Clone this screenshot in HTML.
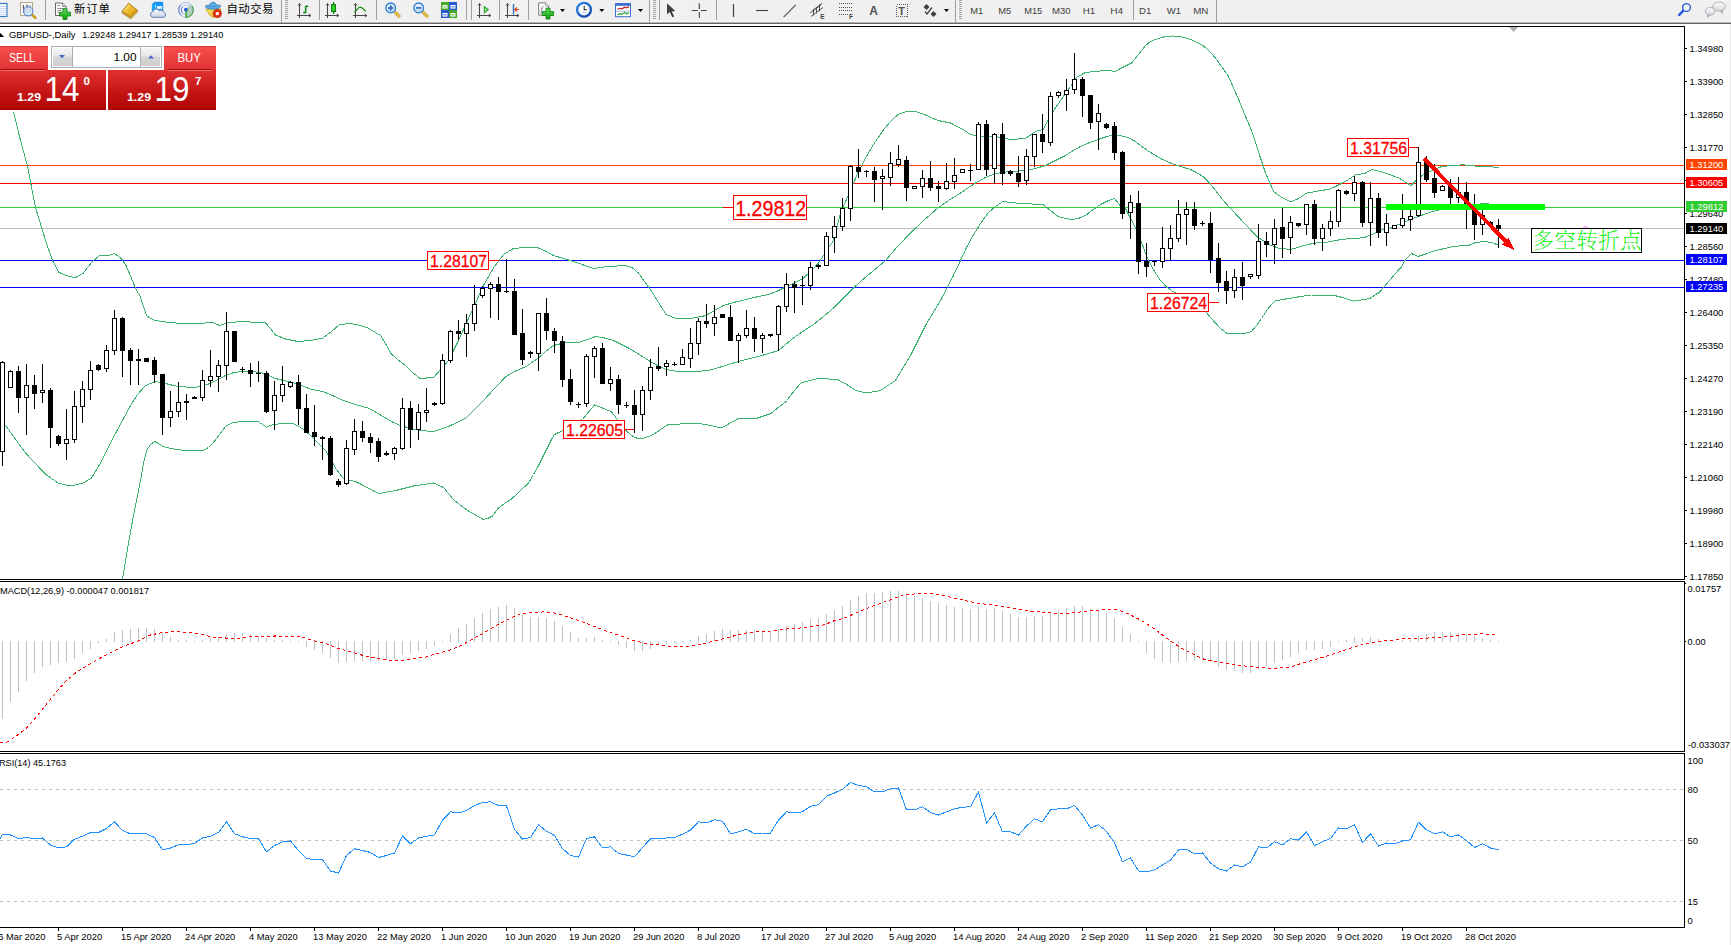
<!DOCTYPE html>
<html lang="zh"><head><meta charset="utf-8"><title>GBPUSD-,Daily</title>
<style>
html,body{margin:0;padding:0;background:#fff;overflow:hidden}
body{width:1731px;height:945px;position:relative;font-family:"Liberation Sans","Noto Sans CJK SC",sans-serif}
svg{position:absolute;left:0;top:0;display:block}
text{font-family:"Liberation Sans","Noto Sans CJK SC",sans-serif}
.ax{font-size:9.33px;fill:#000}
.axw{font-size:9.33px;fill:#fff}
.crisp{shape-rendering:crispEdges}
.lbl{font-size:16px;fill:#f00}
.cj{font-family:"Liberation Sans","Noto Sans CJK SC",sans-serif}
</style></head><body>
<svg width="1731" height="945" viewBox="0 0 1731 945">
<defs>
<linearGradient id="gb1" x1="0" y1="0" x2="0" y2="1"><stop offset="0" stop-color="#fa5050"/><stop offset="1" stop-color="#e03232"/></linearGradient>
<linearGradient id="gb2" x1="0" y1="0" x2="0" y2="1"><stop offset="0" stop-color="#e03030"/><stop offset="0.5" stop-color="#c81818"/><stop offset="1" stop-color="#b00404"/></linearGradient>
<linearGradient id="gsp" x1="0" y1="0" x2="0" y2="1"><stop offset="0" stop-color="#f6f6f6"/><stop offset="0.45" stop-color="#e6e6e6"/><stop offset="0.5" stop-color="#d6d6d6"/><stop offset="1" stop-color="#cfcfcf"/></linearGradient>
<clipPath id="cm"><rect x="0" y="27" width="1684" height="552"/></clipPath>
</defs>
<rect width="1731" height="945" fill="#fff"/>
<g class="crisp">
<rect x="0" y="165" width="1684" height="1" fill="#ff4500"/>
<rect x="0" y="183" width="1684" height="1" fill="#ff0000"/>
<rect x="0" y="207" width="1684" height="1" fill="#32cd32"/>
<rect x="0" y="228" width="1684" height="1" fill="#c0c0c0"/>
<rect x="0" y="260" width="1684" height="1" fill="#0000ff"/>
<rect x="0" y="287" width="1684" height="1" fill="#0000ff"/>
<g clip-path="url(#cm)">
<polyline points="13.5,112.1 20.5,140.5 27.3,165.5 35.5,207.5 45.5,240.5 52.5,260.5 58.7,272.3 66.5,275.5 75.0,277.9 83.1,273.3 92.5,261.2 99.5,255.8 107.5,255.8 114.5,253.5 121.5,258.8 126.2,265.8 136.5,290.5 140.2,296.1 146.5,315.5 150.5,318.5 155.5,320.5 165.5,322.0 175.5,323.0 198.0,323.5 213.0,322.5 219.5,325.5 226.5,323.0 241.5,321.5 265.5,323.0 270.5,328.5 275.5,335.0 285.5,339.0 298.0,341.5 310.5,340.5 323.0,338.0 331.5,331.5 339.5,324.5 350.5,323.5 360.5,325.5 368.0,328.0 380.5,335.5 385.5,343.5 390.5,353.0 397.5,359.5 405.5,365.5 412.5,372.5 419.5,378.0 426.5,378.0 433.5,377.5 448.5,360.5 458.5,340.5 471.0,313.0 483.5,285.5 493.5,268.0 503.5,254.5 513.5,248.5 525.5,247.5 538.5,248.0 545.5,251.0 553.5,255.5 563.5,258.5 573.5,261.5 583.5,265.0 593.5,268.5 600.5,267.5 608.5,266.5 626.0,265.5 632.5,268.0 638.5,273.0 644.5,281.5 651.0,290.5 658.5,302.5 666.0,314.5 676.0,318.5 693.5,318.0 706.0,315.5 714.5,310.5 723.5,305.5 733.5,302.5 746.0,299.5 756.5,297.0 768.5,294.5 776.5,291.5 783.5,288.0 793.5,283.5 803.5,278.0 811.5,270.5 818.5,263.0 823.5,255.5 828.5,248.0 833.5,240.5 840.5,213.0 850.5,190.5 857.5,173.5 865.5,158.0 873.5,144.5 883.0,130.5 890.5,121.5 898.0,114.5 906.5,111.5 915.5,111.5 925.5,115.0 938.0,120.5 950.5,123.0 963.0,129.5 970.5,134.5 980.5,136.5 995.5,136.5 1010.5,139.5 1025.5,138.5 1035.5,131.5 1043.0,129.5 1047.5,121.5 1053.0,111.5 1058.5,103.5 1064.5,94.9 1070.5,86.5 1076.5,77.5 1084.1,73.1 1094.5,71.1 1111.1,70.8 1114.9,71.5 1122.5,67.5 1131.5,63.0 1138.5,54.5 1145.5,45.5 1150.5,41.5 1155.5,39.5 1163.5,37.0 1172.5,36.0 1180.5,36.5 1187.5,38.5 1193.0,40.5 1203.0,45.5 1209.5,51.5 1215.5,58.0 1221.5,66.5 1228.0,75.5 1232.5,85.5 1238.0,98.0 1243.5,111.5 1250.5,128.0 1255.5,142.5 1260.5,158.0 1265.5,172.9 1269.5,182.5 1274.3,192.3 1282.5,197.8 1291.3,202.0 1298.5,198.5 1306.5,193.1 1318.5,191.0 1330.1,189.1 1337.5,185.5 1346.3,181.0 1356.0,174.5 1364.1,173.7 1372.2,169.5 1382.0,172.1 1389.5,174.5 1398.2,177.7 1404.5,181.5 1411.1,185.5 1416.8,179.4 1422.5,175.3 1433.8,169.5 1441.9,166.5 1452.5,165.5 1462.9,164.8 1470.5,165.5 1479.1,166.5 1490.5,166.5 1498.5,168.0" fill="none" stroke="#3cb371" stroke-width="1" />
<polyline points="0.5,423.5 5.5,425.5 25.5,453.0 45.5,474.2 58.0,483.0 65.5,485.0 73.0,485.5 83.0,483.0 91.5,478.0 100.5,463.0 113.0,438.0 130.5,405.5 137.5,394.5 145.5,385.5 155.5,381.5 165.5,383.5 175.5,386.0 185.5,387.0 195.5,387.5 208.0,384.2 216.5,380.5 225.5,375.5 232.5,373.0 240.5,371.5 250.5,371.5 260.5,372.5 267.5,375.0 275.5,378.5 283.5,380.5 293.0,382.5 301.5,385.5 310.5,389.2 323.0,391.5 332.5,395.5 343.0,400.5 355.5,404.5 368.0,408.0 376.5,412.5 385.5,418.0 392.5,422.0 400.5,425.5 410.5,428.5 420.5,430.5 433.5,431.5 448.5,426.5 466.0,418.0 474.5,409.5 483.5,400.5 494.5,388.5 506.0,376.5 515.5,371.0 526.0,366.5 538.5,358.0 545.5,351.5 553.5,345.5 563.5,343.0 578.5,342.5 587.5,339.5 596.0,336.5 604.5,338.0 613.5,340.5 620.5,344.0 628.5,348.0 638.5,354.0 648.5,360.5 656.5,365.0 666.0,369.5 674.5,371.0 683.5,371.5 695.5,371.5 708.5,370.5 720.5,367.0 733.5,363.0 745.5,359.5 758.5,356.5 768.5,353.5 778.5,350.5 785.5,344.5 793.5,338.0 803.5,331.0 813.5,324.5 823.5,316.5 833.5,308.0 843.5,298.0 853.5,288.0 860.5,281.5 866.5,276.5 885.5,260.5 897.5,246.5 910.5,233.0 923.5,220.5 938.0,208.0 948.5,200.5 960.5,193.0 968.5,187.5 978.0,181.5 985.5,177.5 993.0,174.5 1001.5,172.5 1010.5,171.5 1025.5,170.5 1035.5,168.5 1045.5,165.5 1055.5,160.5 1065.5,155.5 1072.5,151.0 1080.5,146.5 1088.5,143.0 1098.0,139.5 1105.5,137.0 1113.0,135.0 1120.5,135.5 1128.0,137.5 1134.5,141.0 1140.5,145.5 1147.5,150.5 1155.5,155.5 1162.5,159.5 1170.5,163.0 1180.5,166.5 1190.5,169.5 1196.5,172.5 1203.0,176.5 1209.5,183.0 1215.5,190.5 1222.5,199.5 1230.5,208.5 1238.5,217.0 1246.5,225.5 1252.5,232.0 1258.2,237.5 1264.5,241.5 1270.2,245.0 1279.9,248.7 1291.3,249.3 1298.5,247.2 1302.5,245.8 1314.5,243.1 1325.3,242.5 1339.1,239.9 1350.5,238.5 1363.5,237.8 1370.5,235.0 1377.1,232.0 1383.5,229.5 1390.1,227.9 1395.5,225.5 1401.5,223.9 1411.1,219.0 1417.2,216.8 1422.5,215.0 1429.5,212.5 1436.5,210.5 1445.5,208.5 1455.5,206.5 1465.5,205.0 1477.5,204.1 1487.2,203.7 1492.5,205.0 1498.5,206.5" fill="none" stroke="#3cb371" stroke-width="1" />
<polyline points="122.5,579.5 125.5,560.5 131.5,526.2 136.5,500.5 140.5,480.5 143.5,463.5 146.5,450.5 150.5,444.5 154.5,441.5 158.5,443.5 163.0,446.5 170.5,448.5 180.5,450.0 190.5,450.5 203.0,450.5 208.5,447.5 213.0,443.0 219.5,434.5 225.5,426.5 230.5,423.5 235.5,422.2 245.5,421.5 258.0,421.5 262.5,424.5 266.5,427.2 270.5,425.5 275.5,424.2 283.5,423.5 293.0,423.5 297.5,425.5 303.0,429.2 309.5,434.5 315.5,440.5 320.5,445.5 325.5,450.5 330.5,458.5 335.5,468.0 339.5,473.5 343.0,478.0 348.5,480.0 355.5,481.5 361.5,484.5 368.0,488.0 373.5,491.0 379.5,493.5 387.5,492.0 395.5,490.5 405.5,488.0 415.5,485.5 424.5,484.5 433.5,483.0 443.5,487.5 453.5,499.5 459.5,504.5 466.0,509.5 474.5,514.5 483.5,519.5 488.5,518.0 492.5,516.0 498.5,508.0 504.5,503.5 511.0,499.5 519.5,491.5 528.5,483.0 533.5,474.5 538.5,465.5 543.5,455.5 548.5,445.5 551.5,439.5 554.5,434.5 558.5,432.5 563.5,430.5 570.5,426.0 582.5,419.5 588.5,412.0 594.5,405.0 602.5,408.0 611.0,411.5 614.5,415.5 617.5,420.0 621.5,425.5 626.0,430.5 630.5,434.5 634.5,437.5 638.5,438.5 642.5,438.5 648.5,436.5 653.5,434.5 660.5,429.5 667.5,425.0 680.5,424.0 698.5,423.5 710.5,425.5 721.0,428.0 729.5,423.5 738.5,418.5 747.5,418.5 756.0,418.5 763.5,416.0 771.0,413.5 779.5,406.5 787.5,400.5 788.5,398.0 794.5,390.5 801.0,383.0 809.5,380.5 818.5,378.5 828.5,379.0 838.5,380.0 847.5,385.0 856.0,390.5 866.5,393.0 880.5,390.5 895.5,380.5 910.5,355.5 925.5,325.5 940.5,300.5 953.0,276.5 960.5,260.5 966.5,247.5 973.0,235.5 980.5,223.5 988.0,213.0 995.5,206.5 1003.0,201.5 1011.5,202.5 1020.5,203.5 1031.5,204.0 1043.0,204.5 1050.5,210.5 1058.0,216.5 1065.5,218.5 1073.0,219.5 1079.5,218.0 1085.5,215.5 1092.5,210.0 1100.5,204.5 1107.5,201.0 1114.5,198.5 1118.5,203.5 1123.0,210.5 1125.5,208.5 1130.5,218.5 1136.5,229.5 1141.5,242.5 1146.5,255.5 1150.5,264.5 1155.5,273.1 1160.5,280.5 1166.5,286.9 1171.5,290.5 1176.5,293.5 1186.5,300.5 1196.5,306.5 1206.5,312.5 1210.5,317.5 1216.0,323.5 1220.5,328.5 1226.5,333.0 1235.5,333.0 1246.0,333.0 1251.5,331.5 1256.5,325.5 1261.5,318.5 1267.5,309.5 1274.5,301.1 1282.5,299.5 1290.5,298.2 1300.5,296.5 1311.5,295.0 1320.5,295.0 1331.0,295.0 1336.5,296.0 1342.5,297.5 1348.5,299.5 1353.5,301.1 1361.5,300.0 1369.9,298.5 1376.5,294.0 1378.5,293.2 1384.5,286.5 1390.1,279.8 1395.5,273.5 1401.5,266.8 1405.5,259.5 1411.5,253.5 1418.1,256.5 1425.5,254.0 1434.0,251.1 1444.5,248.5 1455.5,246.1 1467.5,245.8 1475.9,242.5 1484.3,241.5 1491.8,242.5 1498.5,245.3" fill="none" stroke="#3cb371" stroke-width="1" />
</g>
<path d="M2 361h1v105h-1zM10 370h1v18h-1zM18 366h1v47h-1zM26 364h1v71h-1zM34 375h1v34h-1zM42 364h1v39h-1zM50 388h1v60h-1zM58 435h1v11h-1zM66 409h1v51h-1zM74 391h1v52h-1zM82 381h1v42h-1zM90 361h1v39h-1zM98 364h1v7h-1zM106 345h1v27h-1zM114 310h1v45h-1zM122 317h1v60h-1zM130 348h1v37h-1zM138 349h1v36h-1zM146 358h1v4h-1zM154 357h1v26h-1zM162 374h1v61h-1zM170 391h1v36h-1zM178 382h1v35h-1zM186 394h1v26h-1zM194 396h1v3h-1zM202 370h1v31h-1zM210 350h1v37h-1zM218 360h1v32h-1zM226 312h1v68h-1zM234 331h1v31h-1zM242 367h1v6h-1zM250 363h1v24h-1zM258 361h1v21h-1zM266 371h1v42h-1zM274 381h1v49h-1zM282 366h1v36h-1zM290 381h1v7h-1zM298 375h1v50h-1zM306 394h1v39h-1zM314 405h1v41h-1zM322 436h1v24h-1zM330 436h1v40h-1zM338 479h1v8h-1zM346 440h1v45h-1zM354 419h1v36h-1zM362 421h1v21h-1zM370 433h1v20h-1zM378 438h1v24h-1zM386 451h1v5h-1zM394 447h1v13h-1zM402 398h1v52h-1zM410 401h1v47h-1zM418 404h1v36h-1zM426 388h1v34h-1zM434 402h1v4h-1zM442 354h1v51h-1zM450 330h1v33h-1zM458 320h1v20h-1zM466 314h1v43h-1zM474 285h1v46h-1zM482 286h1v12h-1zM490 282h1v36h-1zM498 277h1v43h-1zM506 259h1v34h-1zM514 279h1v56h-1zM522 309h1v56h-1zM530 351h1v7h-1zM538 313h1v58h-1zM546 298h1v42h-1zM554 328h1v25h-1zM562 336h1v51h-1zM570 369h1v36h-1zM578 402h1v6h-1zM586 354h1v53h-1zM594 346h1v32h-1zM602 343h1v41h-1zM610 367h1v24h-1zM618 375h1v39h-1zM626 402h1v6h-1zM634 390h1v43h-1zM642 386h1v45h-1zM650 359h1v41h-1zM658 347h1v24h-1zM666 360h1v16h-1zM674 362h1v4h-1zM682 349h1v16h-1zM690 328h1v40h-1zM698 318h1v37h-1zM706 304h1v24h-1zM714 305h1v31h-1zM722 314h1v4h-1zM730 305h1v36h-1zM738 333h1v30h-1zM746 310h1v28h-1zM754 317h1v35h-1zM762 333h1v20h-1zM770 334h1v3h-1zM778 305h1v46h-1zM786 273h1v39h-1zM794 281h1v32h-1zM802 276h1v29h-1zM810 262h1v28h-1zM818 264h1v5h-1zM826 232h1v34h-1zM834 216h1v37h-1zM842 198h1v33h-1zM850 165h1v56h-1zM858 149h1v29h-1zM866 170h1v7h-1zM874 167h1v35h-1zM882 169h1v41h-1zM890 152h1v34h-1zM898 145h1v22h-1zM906 156h1v45h-1zM914 186h1v3h-1zM922 170h1v28h-1zM930 161h1v30h-1zM938 181h1v21h-1zM946 163h1v27h-1zM954 158h1v31h-1zM962 169h1v4h-1zM970 164h1v17h-1zM978 122h1v48h-1zM986 120h1v56h-1zM994 133h1v51h-1zM1002 123h1v62h-1zM1010 170h1v6h-1zM1018 156h1v31h-1zM1026 149h1v36h-1zM1034 134h1v33h-1zM1042 114h1v39h-1zM1050 92h1v54h-1zM1058 91h1v7h-1zM1066 79h1v32h-1zM1074 53h1v41h-1zM1082 77h1v40h-1zM1090 95h1v34h-1zM1098 104h1v46h-1zM1106 123h1v6h-1zM1114 122h1v38h-1zM1122 151h1v68h-1zM1130 195h1v44h-1zM1138 191h1v83h-1zM1146 243h1v34h-1zM1154 260h1v6h-1zM1162 227h1v41h-1zM1170 225h1v36h-1zM1178 200h1v42h-1zM1186 202h1v43h-1zM1194 202h1v28h-1zM1202 221h1v5h-1zM1210 212h1v61h-1zM1218 243h1v49h-1zM1226 271h1v33h-1zM1234 269h1v29h-1zM1242 262h1v38h-1zM1250 274h1v5h-1zM1258 224h1v55h-1zM1266 232h1v25h-1zM1274 219h1v45h-1zM1282 208h1v50h-1zM1290 216h1v38h-1zM1298 223h1v4h-1zM1306 204h1v31h-1zM1314 200h1v45h-1zM1322 224h1v27h-1zM1330 211h1v25h-1zM1338 189h1v38h-1zM1346 190h1v5h-1zM1354 176h1v25h-1zM1362 181h1v46h-1zM1370 182h1v64h-1zM1378 193h1v45h-1zM1386 214h1v32h-1zM1394 225h1v4h-1zM1402 194h1v34h-1zM1410 210h1v21h-1zM1418 147h1v70h-1zM1426 156h1v26h-1zM1434 164h1v34h-1zM1442 185h1v6h-1zM1450 179h1v26h-1zM1458 177h1v26h-1zM1466 182h1v47h-1zM1474 194h1v46h-1zM1482 206h1v29h-1zM1490 221h1v6h-1zM1498 219h1v29h-1z" fill="#000"/>
<path d="M0 362h5v90h-5zM8 371h5v17h-5zM16 371h5v27h-5zM24 385h5v13h-5zM32 385h5v9h-5zM40 390h5v3h-5zM48 390h5v38h-5zM56 436h5v8h-5zM64 439h5v5h-5zM72 406h5v34h-5zM80 389h5v18h-5zM88 370h5v20h-5zM96 365h5v5h-5zM104 350h5v19h-5zM112 318h5v33h-5zM120 318h5v33h-5zM128 350h5v11h-5zM136 359h5v2h-5zM144 358h5v4h-5zM152 360h5v15h-5zM160 374h5v44h-5zM168 411h5v7h-5zM176 402h5v10h-5zM184 401h5v2h-5zM192 397h5v2h-5zM200 380h5v18h-5zM208 376h5v5h-5zM216 365h5v12h-5zM224 331h5v35h-5zM232 331h5v31h-5zM240 369h5v1h-5zM248 370h5v4h-5zM256 373h5v1h-5zM264 373h5v39h-5zM272 395h5v16h-5zM280 384h5v12h-5zM288 382h5v5h-5zM296 382h5v27h-5zM304 408h5v25h-5zM312 432h5v5h-5zM320 437h5v2h-5zM328 438h5v37h-5zM336 481h5v4h-5zM344 448h5v36h-5zM352 431h5v19h-5zM360 431h5v7h-5zM368 437h5v6h-5zM376 441h5v16h-5zM384 453h5v2h-5zM392 448h5v6h-5zM400 408h5v41h-5zM408 408h5v22h-5zM416 412h5v18h-5zM424 410h5v3h-5zM432 403h5v2h-5zM440 360h5v44h-5zM448 331h5v30h-5zM456 331h5v3h-5zM464 323h5v11h-5zM472 304h5v20h-5zM480 288h5v8h-5zM488 284h5v5h-5zM496 284h5v8h-5zM504 291h5v1h-5zM512 291h5v44h-5zM520 333h5v27h-5zM528 352h5v2h-5zM536 313h5v41h-5zM544 313h5v18h-5zM552 331h5v10h-5zM560 341h5v39h-5zM568 379h5v23h-5zM576 404h5v1h-5zM584 356h5v48h-5zM592 348h5v9h-5zM600 348h5v36h-5zM608 379h5v5h-5zM616 379h5v26h-5zM624 405h5v1h-5zM632 405h5v10h-5zM640 390h5v25h-5zM648 367h5v24h-5zM656 366h5v3h-5zM664 363h5v4h-5zM672 364h5v1h-5zM680 357h5v8h-5zM688 343h5v16h-5zM696 321h5v23h-5zM704 321h5v3h-5zM712 317h5v7h-5zM720 314h5v4h-5zM728 317h5v24h-5zM736 335h5v6h-5zM744 328h5v8h-5zM752 328h5v11h-5zM760 335h5v4h-5zM768 334h5v2h-5zM776 306h5v29h-5zM784 284h5v23h-5zM792 284h5v4h-5zM800 285h5v1h-5zM808 267h5v19h-5zM816 265h5v2h-5zM824 236h5v30h-5zM832 226h5v12h-5zM840 208h5v19h-5zM848 166h5v43h-5zM856 167h5v5h-5zM864 171h5v1h-5zM872 171h5v9h-5zM880 176h5v3h-5zM888 163h5v15h-5zM896 159h5v6h-5zM904 160h5v28h-5zM912 186h5v3h-5zM920 178h5v9h-5zM928 178h5v10h-5zM936 186h5v3h-5zM944 181h5v8h-5zM952 175h5v7h-5zM960 169h5v4h-5zM968 170h5v1h-5zM976 124h5v46h-5zM984 124h5v46h-5zM992 134h5v35h-5zM1000 134h5v40h-5zM1008 171h5v3h-5zM1016 173h5v9h-5zM1024 156h5v25h-5zM1032 134h5v23h-5zM1040 134h5v8h-5zM1048 96h5v47h-5zM1056 92h5v4h-5zM1064 90h5v5h-5zM1072 79h5v11h-5zM1080 79h5v17h-5zM1088 95h5v28h-5zM1096 113h5v9h-5zM1104 124h5v4h-5zM1112 126h5v27h-5zM1120 152h5v62h-5zM1128 202h5v11h-5zM1136 203h5v59h-5zM1144 261h5v6h-5zM1152 261h5v1h-5zM1160 248h5v14h-5zM1168 238h5v11h-5zM1176 214h5v25h-5zM1184 209h5v6h-5zM1192 209h5v17h-5zM1200 223h5v1h-5zM1208 223h5v37h-5zM1216 258h5v25h-5zM1224 281h5v10h-5zM1232 277h5v14h-5zM1240 277h5v9h-5zM1248 274h5v3h-5zM1256 241h5v35h-5zM1264 241h5v4h-5zM1272 228h5v17h-5zM1280 227h5v12h-5zM1288 222h5v16h-5zM1296 223h5v3h-5zM1304 204h5v21h-5zM1312 204h5v35h-5zM1320 228h5v11h-5zM1328 221h5v8h-5zM1336 190h5v32h-5zM1344 191h5v3h-5zM1352 182h5v12h-5zM1360 182h5v41h-5zM1368 198h5v25h-5zM1376 198h5v35h-5zM1384 223h5v10h-5zM1392 225h5v4h-5zM1400 218h5v8h-5zM1408 216h5v4h-5zM1416 162h5v54h-5zM1424 162h5v18h-5zM1432 178h5v15h-5zM1440 186h5v5h-5zM1448 186h5v12h-5zM1456 192h5v6h-5zM1464 192h5v16h-5zM1472 207h5v18h-5zM1480 215h5v10h-5zM1488 222h5v4h-5zM1496 225h5v4h-5z" fill="#000"/>
<path d="M1 363h3v88h-3zM9 372h3v15h-3zM25 386h3v11h-3zM41 391h3v1h-3zM65 440h3v3h-3zM73 407h3v32h-3zM81 390h3v16h-3zM89 371h3v18h-3zM105 351h3v17h-3zM113 319h3v31h-3zM169 412h3v5h-3zM177 403h3v8h-3zM201 381h3v16h-3zM209 377h3v3h-3zM217 366h3v10h-3zM225 332h3v33h-3zM273 396h3v14h-3zM281 385h3v10h-3zM289 383h3v3h-3zM345 449h3v34h-3zM353 432h3v17h-3zM393 449h3v4h-3zM401 409h3v39h-3zM417 413h3v16h-3zM425 411h3v1h-3zM441 361h3v42h-3zM449 332h3v28h-3zM465 324h3v9h-3zM473 305h3v18h-3zM481 289h3v6h-3zM489 285h3v3h-3zM537 314h3v39h-3zM585 357h3v46h-3zM593 349h3v7h-3zM609 380h3v3h-3zM641 391h3v23h-3zM649 368h3v22h-3zM665 364h3v2h-3zM681 358h3v6h-3zM689 344h3v14h-3zM697 322h3v21h-3zM713 318h3v5h-3zM737 336h3v4h-3zM745 329h3v6h-3zM761 336h3v2h-3zM777 307h3v27h-3zM785 285h3v21h-3zM809 268h3v17h-3zM825 237h3v28h-3zM833 227h3v10h-3zM841 209h3v17h-3zM849 167h3v41h-3zM881 177h3v1h-3zM889 164h3v13h-3zM897 160h3v4h-3zM913 187h3v1h-3zM921 179h3v7h-3zM945 182h3v6h-3zM953 176h3v5h-3zM961 170h3v2h-3zM977 125h3v44h-3zM993 135h3v33h-3zM1025 157h3v23h-3zM1033 135h3v21h-3zM1049 97h3v45h-3zM1057 93h3v2h-3zM1065 91h3v3h-3zM1073 80h3v9h-3zM1097 114h3v7h-3zM1129 203h3v9h-3zM1161 249h3v12h-3zM1169 239h3v9h-3zM1177 215h3v23h-3zM1185 210h3v4h-3zM1233 278h3v12h-3zM1249 275h3v1h-3zM1257 242h3v33h-3zM1273 229h3v15h-3zM1289 223h3v14h-3zM1305 205h3v19h-3zM1321 229h3v9h-3zM1329 222h3v6h-3zM1337 191h3v30h-3zM1353 183h3v10h-3zM1369 199h3v23h-3zM1385 224h3v8h-3zM1393 226h3v2h-3zM1401 219h3v6h-3zM1409 217h3v2h-3zM1417 163h3v52h-3zM1441 187h3v3h-3zM1457 193h3v4h-3zM1481 216h3v8h-3z" fill="#fff"/>
<rect x="1386" y="204" width="159" height="6" fill="#00ff00"/>
</g>
<g class="crisp"><line x1="1424.2" y1="158.6" x2="1508" y2="243.6" stroke="#ff0000" stroke-width="3.7"/>
<polygon points="1514.2,249.8 1501.8,244.5 1508.6,237.6" fill="#ff0000"/></g>
<g class="crisp">
<rect x="489" y="260" width="10" height="1" fill="#f00"/>
<rect x="723" y="207" width="10" height="1" fill="#f00"/>
<rect x="625" y="429" width="9" height="1" fill="#f00"/>
<rect x="1209" y="302" width="10" height="1" fill="#f00"/>
<rect x="1409" y="147" width="9" height="1" fill="#f00"/>
</g>
<rect x="427.5" y="251.5" width="61" height="18" fill="#fff" stroke="#f00" stroke-width="1" class="crisp"/>
<text x="430" y="267" font-size="16" fill="#f00" stroke="#f00" stroke-width="0.3" textLength="57" lengthAdjust="spacingAndGlyphs">1.28107</text>
<rect x="733.5" y="195.5" width="73" height="24" fill="#fff" stroke="#f00" stroke-width="1" class="crisp"/>
<text x="735.2" y="215.8" font-size="22.2" fill="#f00" stroke="#f00" stroke-width="0.3" textLength="71" lengthAdjust="spacingAndGlyphs">1.29812</text>
<rect x="563.5" y="420.5" width="61" height="18" fill="#fff" stroke="#f00" stroke-width="1" class="crisp"/>
<text x="566" y="436" font-size="16" fill="#f00" stroke="#f00" stroke-width="0.3" textLength="57" lengthAdjust="spacingAndGlyphs">1.22605</text>
<rect x="1147.5" y="293.5" width="61" height="18" fill="#fff" stroke="#f00" stroke-width="1" class="crisp"/>
<text x="1150" y="309" font-size="16" fill="#f00" stroke="#f00" stroke-width="0.3" textLength="57" lengthAdjust="spacingAndGlyphs">1.26724</text>
<rect x="1347.5" y="138.5" width="61" height="18" fill="#fff" stroke="#f00" stroke-width="1" class="crisp"/>
<text x="1350" y="154" font-size="16" fill="#f00" stroke="#f00" stroke-width="0.3" textLength="57" lengthAdjust="spacingAndGlyphs">1.31756</text>
<rect x="1531.5" y="228.5" width="110" height="24" fill="#fff" stroke="#000" stroke-width="1" class="crisp"/>
<text x="1532.6" y="247.5" font-size="21.33px" fill="#00f000" style="font-family:'Liberation Serif','Noto Serif CJK SC',serif;font-weight:200" textLength="109" lengthAdjust="spacing">多空转折点</text>
<path d="M1583.5 228 l2 -2 l2 2" fill="none" stroke="#e060e0" stroke-width="1"/>
<g class="crisp" fill="#000">
<rect x="0" y="26" width="1685" height="1"/>
<rect x="1684" y="26" width="1" height="554"/>
<rect x="0" y="579" width="1685" height="1"/>
<rect x="0" y="581" width="1685" height="1"/>
<rect x="1684" y="581" width="1" height="171"/>
<rect x="0" y="751" width="1685" height="1"/>
<rect x="0" y="753" width="1685" height="1"/>
<rect x="1684" y="753" width="1" height="175"/>
<rect x="0" y="927" width="1685" height="1"/>
<rect x="1685" y="48" width="2" height="1"/>
<rect x="1685" y="81" width="2" height="1"/>
<rect x="1685" y="114" width="2" height="1"/>
<rect x="1685" y="147" width="2" height="1"/>
<rect x="1685" y="180" width="2" height="1"/>
<rect x="1685" y="213" width="2" height="1"/>
<rect x="1685" y="246" width="2" height="1"/>
<rect x="1685" y="279" width="2" height="1"/>
<rect x="1685" y="312" width="2" height="1"/>
<rect x="1685" y="345" width="2" height="1"/>
<rect x="1685" y="378" width="2" height="1"/>
<rect x="1685" y="411" width="2" height="1"/>
<rect x="1685" y="444" width="2" height="1"/>
<rect x="1685" y="477" width="2" height="1"/>
<rect x="1685" y="510" width="2" height="1"/>
<rect x="1685" y="543" width="2" height="1"/>
<rect x="1685" y="576" width="2" height="1"/>
<rect x="1685" y="583" width="1" height="1"/>
<rect x="1685" y="641" width="1" height="1"/>
<rect x="58" y="928" width="1" height="3"/>
<rect x="122" y="928" width="1" height="3"/>
<rect x="186" y="928" width="1" height="3"/>
<rect x="250" y="928" width="1" height="3"/>
<rect x="314" y="928" width="1" height="3"/>
<rect x="378" y="928" width="1" height="3"/>
<rect x="442" y="928" width="1" height="3"/>
<rect x="506" y="928" width="1" height="3"/>
<rect x="570" y="928" width="1" height="3"/>
<rect x="634" y="928" width="1" height="3"/>
<rect x="698" y="928" width="1" height="3"/>
<rect x="762" y="928" width="1" height="3"/>
<rect x="826" y="928" width="1" height="3"/>
<rect x="890" y="928" width="1" height="3"/>
<rect x="954" y="928" width="1" height="3"/>
<rect x="1018" y="928" width="1" height="3"/>
<rect x="1082" y="928" width="1" height="3"/>
<rect x="1146" y="928" width="1" height="3"/>
<rect x="1210" y="928" width="1" height="3"/>
<rect x="1274" y="928" width="1" height="3"/>
<rect x="1338" y="928" width="1" height="3"/>
<rect x="1402" y="928" width="1" height="3"/>
<rect x="1466" y="928" width="1" height="3"/>
</g>
<rect x="1730" y="24" width="1" height="921" fill="#e8e8e8" class="crisp"/>
<text class="ax" x="1689.6" y="52">1.34980</text>
<text class="ax" x="1689.6" y="85">1.33900</text>
<text class="ax" x="1689.6" y="118">1.32850</text>
<text class="ax" x="1689.6" y="151">1.31770</text>
<text class="ax" x="1689.6" y="217">1.29640</text>
<text class="ax" x="1689.6" y="250">1.28560</text>
<text class="ax" x="1689.6" y="283">1.27480</text>
<text class="ax" x="1689.6" y="316">1.26400</text>
<text class="ax" x="1689.6" y="349">1.25350</text>
<text class="ax" x="1689.6" y="382">1.24270</text>
<text class="ax" x="1689.6" y="415">1.23190</text>
<text class="ax" x="1689.6" y="448">1.22140</text>
<text class="ax" x="1689.6" y="481">1.21060</text>
<text class="ax" x="1689.6" y="514">1.19980</text>
<text class="ax" x="1689.6" y="547">1.18900</text>
<text class="ax" x="1689.6" y="580">1.17850</text>
<rect x="1686" y="159" width="41" height="11" fill="#ff4500" class="crisp"/>
<text class="axw" x="1689.6" y="168">1.31200</text>
<rect x="1686" y="177" width="41" height="11" fill="#ff0000" class="crisp"/>
<text class="axw" x="1689.6" y="186">1.30605</text>
<rect x="1686" y="201" width="41" height="11" fill="#32cd32" class="crisp"/>
<text class="axw" x="1689.6" y="210">1.29812</text>
<rect x="1686" y="223" width="41" height="11" fill="#000" class="crisp"/>
<text class="axw" x="1689.6" y="232">1.29140</text>
<rect x="1686" y="254" width="41" height="11" fill="#0000ff" class="crisp"/>
<text class="axw" x="1689.6" y="263">1.28107</text>
<rect x="1686" y="281" width="41" height="11" fill="#0000ff" class="crisp"/>
<text class="axw" x="1689.6" y="290">1.27235</text>
<text class="ax" x="1687.6" y="592">0.01757</text>
<text class="ax" x="1687.6" y="645">0.00</text>
<text class="ax" x="1688" y="748">-0.033037</text>
<text class="ax" x="1687.6" y="764">100</text>
<text class="ax" x="1687.6" y="793">80</text>
<text class="ax" x="1687.6" y="844">50</text>
<text class="ax" x="1687.6" y="905">15</text>
<text class="ax" x="1687.6" y="924">0</text>
<path d="M0 32.8 L4.2 37 L0 37z" fill="#000"/>
<text x="9" y="38" font-size="9.8px" fill="#000" textLength="66.5" lengthAdjust="spacingAndGlyphs">GBPUSD-,Daily</text>
<text x="82.2" y="38" font-size="9.8px" fill="#000" textLength="33.3" lengthAdjust="spacingAndGlyphs">1.29248</text>
<text x="118.2" y="38" font-size="9.8px" fill="#000" textLength="33.3" lengthAdjust="spacingAndGlyphs">1.29417</text>
<text x="154" y="38" font-size="9.8px" fill="#000" textLength="33.3" lengthAdjust="spacingAndGlyphs">1.28539</text>
<text x="190" y="38" font-size="9.8px" fill="#000" textLength="33.3" lengthAdjust="spacingAndGlyphs">1.29140</text>
<text x="0" y="594" font-size="9.6px" fill="#000" textLength="149" lengthAdjust="spacingAndGlyphs">MACD(12,26,9) -0.000047 0.001817</text>
<text x="-1" y="766" font-size="9.6px" fill="#000" textLength="67" lengthAdjust="spacingAndGlyphs">RSI(14) 45.1763</text>
<path d="M1509 27 h9 l-4.5 5z" fill="#b0b0b0"/>
<g class="crisp">
<path d="M2 641h1v78h-1zM10 641h1v61h-1zM18 641h1v51h-1zM26 641h1v40h-1zM34 641h1v32h-1zM42 641h1v26h-1zM50 641h1v24h-1zM58 641h1v22h-1zM66 641h1v21h-1zM74 641h1v18h-1zM82 641h1v12h-1zM90 641h1v8h-1zM98 641h1v2h-1zM106 639h1v3h-1zM114 632h1v10h-1zM122 630h1v12h-1zM130 629h1v13h-1zM138 628h1v14h-1zM146 628h1v14h-1zM154 629h1v13h-1zM162 632h1v10h-1zM170 637h1v5h-1zM178 640h1v2h-1zM186 640h1v2h-1zM194 641h1v1h-1zM202 640h1v2h-1zM210 638h1v4h-1zM218 636h1v6h-1zM226 634h1v8h-1zM234 633h1v9h-1zM242 633h1v9h-1zM250 634h1v8h-1zM258 636h1v6h-1zM266 638h1v4h-1zM274 640h1v2h-1zM282 640h1v2h-1zM290 641h1v1h-1zM298 641h1v1h-1zM306 641h1v6h-1zM314 641h1v9h-1zM322 641h1v12h-1zM330 641h1v17h-1zM338 641h1v22h-1zM346 641h1v21h-1zM354 641h1v20h-1zM362 641h1v20h-1zM370 641h1v20h-1zM378 641h1v20h-1zM386 641h1v19h-1zM394 641h1v18h-1zM402 641h1v14h-1zM410 641h1v12h-1zM418 641h1v10h-1zM426 641h1v8h-1zM434 641h1v5h-1zM442 641h1v1h-1zM450 634h1v8h-1zM458 628h1v14h-1zM466 624h1v18h-1zM474 618h1v24h-1zM482 613h1v29h-1zM490 609h1v33h-1zM498 607h1v35h-1zM506 605h1v37h-1zM514 608h1v34h-1zM522 614h1v28h-1zM530 617h1v25h-1zM538 617h1v25h-1zM546 618h1v24h-1zM554 621h1v21h-1zM562 626h1v16h-1zM570 632h1v10h-1zM578 638h1v4h-1zM586 638h1v4h-1zM594 637h1v5h-1zM602 640h1v2h-1zM610 641h1v1h-1zM618 641h1v4h-1zM626 641h1v7h-1zM634 641h1v10h-1zM642 641h1v10h-1zM650 641h1v8h-1zM658 641h1v4h-1zM666 641h1v3h-1zM674 641h1v2h-1zM682 641h1v1h-1zM690 640h1v2h-1zM698 636h1v6h-1zM706 634h1v8h-1zM714 631h1v11h-1zM722 629h1v13h-1zM730 630h1v12h-1zM738 630h1v12h-1zM746 630h1v12h-1zM754 630h1v12h-1zM762 631h1v11h-1zM770 631h1v11h-1zM778 629h1v13h-1zM786 626h1v16h-1zM794 624h1v18h-1zM802 622h1v20h-1zM810 619h1v23h-1zM818 618h1v24h-1zM826 614h1v28h-1zM834 610h1v32h-1zM842 606h1v36h-1zM850 600h1v42h-1zM858 596h1v46h-1zM866 593h1v49h-1zM874 593h1v49h-1zM882 592h1v50h-1zM890 591h1v51h-1zM898 591h1v51h-1zM906 594h1v48h-1zM914 596h1v46h-1zM922 598h1v44h-1zM930 601h1v41h-1zM938 603h1v39h-1zM946 605h1v37h-1zM954 607h1v35h-1zM962 608h1v34h-1zM970 609h1v33h-1zM978 606h1v36h-1zM986 609h1v33h-1zM994 608h1v34h-1zM1002 611h1v31h-1zM1010 614h1v28h-1zM1018 617h1v25h-1zM1026 617h1v25h-1zM1034 616h1v26h-1zM1042 616h1v26h-1zM1050 612h1v30h-1zM1058 610h1v32h-1zM1066 608h1v34h-1zM1074 606h1v36h-1zM1082 606h1v36h-1zM1090 609h1v33h-1zM1098 610h1v32h-1zM1106 613h1v29h-1zM1114 618h1v24h-1zM1122 627h1v15h-1zM1130 634h1v8h-1zM1138 641h1v1h-1zM1146 641h1v12h-1zM1154 641h1v18h-1zM1162 641h1v21h-1zM1170 641h1v22h-1zM1178 641h1v21h-1zM1186 641h1v20h-1zM1194 641h1v20h-1zM1202 641h1v20h-1zM1210 641h1v21h-1zM1218 641h1v26h-1zM1226 641h1v29h-1zM1234 641h1v30h-1zM1242 641h1v32h-1zM1250 641h1v32h-1zM1258 641h1v28h-1zM1266 641h1v25h-1zM1274 641h1v22h-1zM1282 641h1v19h-1zM1290 641h1v16h-1zM1298 641h1v12h-1zM1306 641h1v9h-1zM1314 641h1v9h-1zM1322 641h1v8h-1zM1330 641h1v6h-1zM1338 641h1v1h-1zM1346 640h1v2h-1zM1354 637h1v5h-1zM1362 638h1v4h-1zM1370 637h1v5h-1zM1378 639h1v3h-1zM1386 640h1v2h-1zM1394 641h1v1h-1zM1402 640h1v2h-1zM1410 640h1v2h-1zM1418 636h1v6h-1zM1426 634h1v8h-1zM1434 632h1v10h-1zM1442 632h1v10h-1zM1450 632h1v10h-1zM1458 633h1v9h-1zM1466 634h1v8h-1zM1474 636h1v6h-1zM1482 638h1v4h-1zM1490 640h1v2h-1zM1498 641h1v1h-1z" fill="#c0c0c0"/>
<polyline points="0.5,743.0 6.5,742.5 15.5,736.5 25.5,729.2 35.5,718.0 45.5,705.5 55.5,693.0 65.5,681.5 75.5,673.0 88.0,665.0 100.5,658.0 113.0,651.5 125.5,645.5 138.0,641.0 150.5,635.0 163.0,632.5 175.5,631.5 188.0,632.5 200.5,634.2 213.0,637.2 225.5,638.0 240.5,638.0 253.0,636.2 275.5,636.0 300.5,636.5 313.0,640.5 325.5,643.5 338.0,648.5 350.5,651.5 363.0,655.5 375.5,658.0 388.0,660.0 400.5,660.5 413.0,658.5 425.5,657.2 436.0,653.8 448.5,650.5 461.0,645.5 473.5,638.5 486.0,631.8 498.5,624.2 511.0,618.0 521.0,613.8 533.5,612.5 546.0,611.8 558.5,613.8 571.0,618.0 583.5,622.2 596.0,627.2 608.5,631.8 621.0,636.0 633.5,640.5 646.0,643.5 658.5,645.0 671.0,646.8 683.5,646.8 696.0,645.0 708.5,642.5 721.0,639.2 733.5,636.0 746.0,633.0 758.5,631.2 771.0,631.0 783.5,629.2 796.0,628.5 808.5,626.8 823.5,625.0 833.5,621.0 846.0,617.5 858.5,611.8 869.0,607.5 881.5,603.0 894.0,598.5 904.0,595.0 916.5,593.8 931.5,593.8 946.5,596.2 961.5,599.8 976.5,603.0 991.5,605.0 1006.5,606.8 1016.5,609.2 1031.5,611.2 1046.5,612.5 1061.5,613.8 1076.5,612.5 1091.5,610.5 1104.0,609.8 1119.0,610.0 1129.0,614.2 1141.5,620.5 1154.0,628.5 1166.5,638.0 1179.0,646.8 1191.5,653.5 1204.0,659.2 1216.5,661.8 1229.0,663.5 1241.5,665.5 1254.0,667.2 1266.5,668.0 1279.0,668.0 1291.5,666.8 1301.0,663.5 1313.5,660.0 1331.0,654.8 1343.5,650.5 1358.5,645.5 1373.5,642.2 1388.5,640.5 1403.5,638.8 1418.5,638.8 1433.5,637.5 1448.5,636.8 1463.5,634.8 1478.5,634.2 1484.5,633.5 1488.5,634.8 1496.0,634.8" fill="none" stroke="#ff0000" stroke-width="1" stroke-dasharray="3 3"/>
<line x1="0" y1="789.5" x2="1684" y2="789.5" stroke="#c0c0c0" stroke-width="1" stroke-dasharray="3 4"/>
<line x1="0" y1="840.5" x2="1684" y2="840.5" stroke="#c0c0c0" stroke-width="1" stroke-dasharray="3 4"/>
<line x1="0" y1="901.5" x2="1684" y2="901.5" stroke="#c0c0c0" stroke-width="1" stroke-dasharray="3 4"/>
<polyline points="-5.5,849.5 2.5,834.2 10.5,835.0 18.5,838.8 26.5,837.5 34.5,838.8 42.5,838.0 50.5,845.0 58.5,848.0 66.5,846.8 74.5,839.2 82.5,836.2 90.5,832.5 98.5,832.5 106.5,828.5 114.5,821.8 122.5,830.5 130.5,833.8 138.5,833.8 146.5,833.8 154.5,837.5 162.5,849.8 170.5,848.0 178.5,844.8 186.5,844.8 194.5,843.5 202.5,838.0 210.5,836.2 218.5,832.5 226.5,821.8 234.5,833.8 242.5,836.8 250.5,838.5 258.5,838.8 266.5,851.8 274.5,845.5 282.5,841.8 290.5,841.0 298.5,850.5 306.5,858.5 314.5,859.8 322.5,859.8 330.5,871.0 338.5,873.0 346.5,855.5 354.5,848.8 362.5,850.5 370.5,852.5 378.5,857.5 386.5,855.5 394.5,853.0 402.5,836.0 410.5,843.8 418.5,838.0 426.5,836.2 434.5,835.0 442.5,820.0 450.5,811.8 458.5,813.0 466.5,810.5 474.5,805.5 482.5,802.5 490.5,801.8 498.5,805.5 506.5,806.0 514.5,829.2 522.5,839.2 530.5,837.5 538.5,825.0 546.5,831.2 554.5,835.5 562.5,848.5 570.5,855.5 578.5,857.2 586.5,838.5 594.5,836.8 602.5,848.0 610.5,846.8 618.5,853.5 626.5,855.0 634.5,856.8 642.5,847.5 650.5,838.8 658.5,838.8 666.5,838.0 674.5,837.5 682.5,834.2 690.5,830.0 698.5,821.8 706.5,823.0 714.5,819.8 722.5,821.2 730.5,833.8 738.5,831.8 746.5,829.2 754.5,833.8 762.5,833.0 770.5,833.0 778.5,820.0 786.5,811.8 794.5,813.0 802.5,811.8 810.5,806.2 818.5,804.8 826.5,796.2 834.5,793.0 842.5,789.2 850.5,782.5 858.5,785.5 866.5,786.8 874.5,791.8 882.5,791.8 890.5,788.8 898.5,788.0 906.5,809.8 914.5,809.8 922.5,806.8 930.5,812.5 938.5,815.0 946.5,811.8 954.5,808.8 962.5,807.2 970.5,806.8 978.5,791.8 986.5,823.0 994.5,813.0 1002.5,831.8 1010.5,831.8 1018.5,835.0 1026.5,826.0 1034.5,818.8 1042.5,821.8 1050.5,809.8 1058.5,808.8 1066.5,808.8 1074.5,805.5 1082.5,815.0 1090.5,828.0 1098.5,824.8 1106.5,831.2 1114.5,843.0 1122.5,861.8 1130.5,858.0 1138.5,871.0 1146.5,871.8 1154.5,869.8 1162.5,865.0 1170.5,860.0 1178.5,850.0 1186.5,849.2 1194.5,853.8 1202.5,853.0 1210.5,863.0 1218.5,868.8 1226.5,871.0 1234.5,865.0 1242.5,866.8 1250.5,862.2 1258.5,846.8 1266.5,848.0 1274.5,841.8 1282.5,844.8 1290.5,838.8 1298.5,840.0 1306.5,831.8 1314.5,845.5 1322.5,841.8 1330.5,838.5 1338.5,828.0 1346.5,828.8 1354.5,824.8 1362.5,842.5 1370.5,833.8 1378.5,846.0 1386.5,843.0 1394.5,843.8 1402.5,841.0 1410.5,839.8 1418.5,822.2 1426.5,829.8 1434.5,833.8 1442.5,831.8 1450.5,836.8 1458.5,835.0 1466.5,840.5 1474.5,847.5 1482.5,843.8 1490.5,848.0 1498.5,849.8" fill="none" stroke="#1e90ff" stroke-width="1" />
</g>
<text class="ax" x="-7" y="940" font-size="9.6px">26 Mar 2020</text>
<text class="ax" x="57" y="940" font-size="9.6px">5 Apr 2020</text>
<text class="ax" x="121" y="940" font-size="9.6px">15 Apr 2020</text>
<text class="ax" x="185" y="940" font-size="9.6px">24 Apr 2020</text>
<text class="ax" x="249" y="940" font-size="9.6px">4 May 2020</text>
<text class="ax" x="313" y="940" font-size="9.6px">13 May 2020</text>
<text class="ax" x="377" y="940" font-size="9.6px">22 May 2020</text>
<text class="ax" x="441" y="940" font-size="9.6px">1 Jun 2020</text>
<text class="ax" x="505" y="940" font-size="9.6px">10 Jun 2020</text>
<text class="ax" x="569" y="940" font-size="9.6px">19 Jun 2020</text>
<text class="ax" x="633" y="940" font-size="9.6px">29 Jun 2020</text>
<text class="ax" x="697" y="940" font-size="9.6px">8 Jul 2020</text>
<text class="ax" x="761" y="940" font-size="9.6px">17 Jul 2020</text>
<text class="ax" x="825" y="940" font-size="9.6px">27 Jul 2020</text>
<text class="ax" x="889" y="940" font-size="9.6px">5 Aug 2020</text>
<text class="ax" x="953" y="940" font-size="9.6px">14 Aug 2020</text>
<text class="ax" x="1017" y="940" font-size="9.6px">24 Aug 2020</text>
<text class="ax" x="1081" y="940" font-size="9.6px">2 Sep 2020</text>
<text class="ax" x="1145" y="940" font-size="9.6px">11 Sep 2020</text>
<text class="ax" x="1209" y="940" font-size="9.6px">21 Sep 2020</text>
<text class="ax" x="1273" y="940" font-size="9.6px">30 Sep 2020</text>
<text class="ax" x="1337" y="940" font-size="9.6px">9 Oct 2020</text>
<text class="ax" x="1401" y="940" font-size="9.6px">19 Oct 2020</text>
<text class="ax" x="1465" y="940" font-size="9.6px">28 Oct 2020</text>
<g>
<rect x="0" y="46" width="48" height="24" fill="url(#gb1)"/>
<rect x="164" y="46" width="52" height="24" fill="url(#gb1)"/>
<rect x="0" y="70" width="106" height="40" fill="url(#gb2)"/>
<rect x="108" y="70" width="108" height="40" fill="url(#gb2)"/>
<rect x="0" y="46" width="48" height="1" fill="#d83030" class="crisp"/>
<rect x="164" y="46" width="52" height="1" fill="#d83030" class="crisp"/>
<rect x="1" y="69" width="44" height="1" fill="#9c0a0a" class="crisp"/>
<rect x="1" y="70" width="44" height="1" fill="#f07070" class="crisp"/>
<rect x="168" y="69" width="44" height="1" fill="#9c0a0a" class="crisp"/>
<rect x="168" y="70" width="44" height="1" fill="#f07070" class="crisp"/>
<rect x="51.5" y="46.5" width="110" height="21" fill="#fff" stroke="#a9b0b8" class="crisp"/>
<rect x="53" y="48" width="19" height="18" fill="url(#gsp)"/>
<rect x="72" y="47" width="1" height="20" fill="#a9b0b8" class="crisp"/>
<rect x="141" y="48" width="19" height="18" fill="url(#gsp)"/>
<rect x="140" y="47" width="1" height="20" fill="#a9b0b8" class="crisp"/>
<path d="M59 55 h6 l-3 3.2z" fill="#4a63c8"/>
<path d="M148 58.5 h6 l-3 -3.2z" fill="#4a63c8"/>
<text x="113.5" y="60.7" font-size="11.5px" fill="#000" textLength="23" lengthAdjust="spacingAndGlyphs">1.00</text>
<text x="9" y="61.7" font-size="12px" fill="#fff" textLength="26" lengthAdjust="spacingAndGlyphs">SELL</text>
<text x="177.5" y="61.7" font-size="12px" fill="#fff" textLength="23.5" lengthAdjust="spacingAndGlyphs">BUY</text>
<text x="17" y="101" font-size="11px" font-weight="bold" fill="#fff" textLength="24" lengthAdjust="spacingAndGlyphs">1.29</text>
<text x="44.5" y="101.2" font-size="34.3px" fill="#fff" textLength="35" lengthAdjust="spacingAndGlyphs">14</text>
<text x="83.5" y="85" font-size="11.5px" font-weight="bold" fill="#fff">0</text>
<text x="127" y="101" font-size="11px" font-weight="bold" fill="#fff" textLength="24" lengthAdjust="spacingAndGlyphs">1.29</text>
<text x="154.5" y="101.2" font-size="34.3px" fill="#fff" textLength="35" lengthAdjust="spacingAndGlyphs">19</text>
<text x="195" y="85" font-size="11.5px" font-weight="bold" fill="#fff">7</text>
</g>
<g id="toolbar">
<defs>
<linearGradient id="gold" x1="0" y1="0" x2="1" y2="1"><stop offset="0" stop-color="#ffe070"/><stop offset="0.6" stop-color="#e8b020"/><stop offset="1" stop-color="#b88010"/></linearGradient>
<linearGradient id="grn" x1="0" y1="0" x2="0" y2="1"><stop offset="0" stop-color="#60e060"/><stop offset="1" stop-color="#08a008"/></linearGradient>
<linearGradient id="lens" x1="0" y1="0" x2="0" y2="1"><stop offset="0" stop-color="#eaf4fc"/><stop offset="1" stop-color="#b8d4f0"/></linearGradient>
<linearGradient id="cld" x1="0" y1="0" x2="0" y2="1"><stop offset="0" stop-color="#ffffff"/><stop offset="1" stop-color="#c4d0e6"/></linearGradient>
<linearGradient id="yel" x1="0" y1="0" x2="1" y2="1"><stop offset="0" stop-color="#fbe870"/><stop offset="1" stop-color="#dca818"/></linearGradient>
<linearGradient id="clk" x1="0" y1="0" x2="0.6" y2="1"><stop offset="0" stop-color="#2a88ec"/><stop offset="1" stop-color="#0c4cb0"/></linearGradient>
<linearGradient id="bub" x1="0" y1="0" x2="0" y2="1"><stop offset="0" stop-color="#fbfbfb"/><stop offset="1" stop-color="#d4d6de"/></linearGradient>
<pattern id="chk" width="2" height="2" patternUnits="userSpaceOnUse"><rect width="2" height="2" fill="#f7f7f7"/><rect width="1" height="1" fill="#ececec"/><rect x="1" y="1" width="1" height="1" fill="#ececec"/></pattern>
<g id="grip"><path d="M0 .5h3M0 2.5h3M0 4.5h3M0 6.5h3M0 8.5h3M0 10.5h3M0 12.5h3M0 14.5h3M0 16.5h3M0 18.5h3" stroke="#a8a8a8" stroke-width="1" shape-rendering="crispEdges"/></g>
<path id="dd" d="M0 0h5l-2.5 3z" fill="#000"/>
<g id="axes" stroke="#484848" stroke-width="1.05" fill="none"><path d="M2.5 3.5v14.5M0 15.5h13.5"/><path d="M1 5.5l1.5-2 1.5 2M11.8 14l2 1.5-2 1.5" stroke-width="1"/></g>
</defs>
<rect x="0" y="0" width="1731" height="22" fill="#f0f0f0"/>
<rect x="0" y="21" width="1731" height="1" fill="#f7f7f7" class="crisp"/>
<rect x="0" y="22" width="1731" height="1" fill="#b0b0b0" class="crisp"/>
<rect x="0" y="23" width="1731" height="1" fill="#6a6a6a" class="crisp"/>
<!-- pressed backgrounds -->
<rect x="320" y="0" width="25" height="21" fill="url(#chk)"/>
<rect x="472" y="0" width="24" height="21" fill="url(#chk)"/>
<rect x="500" y="0" width="24" height="21" fill="url(#chk)"/>
<rect x="660" y="0" width="25" height="21" fill="url(#chk)"/>
<rect x="1134" y="0" width="24" height="21" fill="url(#chk)"/>
<!-- separators -->
<g class="crisp" fill="#a0a0a0">
<rect x="45" y="0" width="1" height="20"/>
<rect x="281" y="0" width="1" height="22"/>
<rect x="319" y="0" width="1" height="20"/>
<rect x="376" y="0" width="1" height="20"/>
<rect x="466" y="0" width="1" height="20"/>
<rect x="471" y="0" width="1" height="20"/>
<rect x="499" y="0" width="1" height="20"/>
<rect x="528" y="0" width="1" height="20"/>
<rect x="649" y="0" width="1" height="22"/>
<rect x="659" y="0" width="1" height="20"/>
<rect x="716" y="0" width="1" height="20"/>
<rect x="955" y="0" width="1" height="22"/>
<rect x="1133" y="0" width="1" height="20"/>
<rect x="1216" y="0" width="1" height="22"/>
</g>
<use href="#grip" x="285" y="0"/><use href="#grip" x="653" y="0"/><use href="#grip" x="959" y="0"/>
<!-- icon1 doc with lines -->
<rect x="-3" y="3.5" width="10" height="13" fill="#fff" stroke="#3a78c8" stroke-width="1.2"/>
<path d="M0 6.5h6M0 8.5h6M0 10.5h6M0 12.5h6M0 14.5h6" stroke="#c4d6f6" stroke-width="1"/>
<!-- icon2 chart+magnifier -->
<rect x="20.5" y="2.5" width="12" height="13" fill="#fafafa" stroke="#b4a888" stroke-width="1"/>
<path d="M23.5 5v8M27 4.5v8M30 5v7M22.5 7h2M26 6h2" stroke="#606060" stroke-width="1" fill="none"/>
<circle cx="28.3" cy="11.3" r="4.6" fill="#cfe0f4" fill-opacity="0.85" stroke="#5c8ad8" stroke-width="1.1"/>
<path d="M32 14.8l4.2 3.8" stroke="#c8981c" stroke-width="2.5" stroke-linecap="butt"/>
<!-- icon3 new order -->
<path d="M55.5 3h7l3.5 3.5v9h-10.5z" fill="#fdfdfd" stroke="#666" stroke-width="1" stroke-linejoin="round"/>
<path d="M62.5 3v3.5h3.5" fill="#e0e0e0" stroke="#707070" stroke-width="0.8"/>
<path d="M57.5 5.5h2.5M57.5 8.5h6M57.5 10.5h4M57.5 12.5h2.5" stroke="#8a8a8a" stroke-width="1"/>
<path d="M63 8.7h4v3.5h3.5v3.8h-3.5v3.4h-4v-3.4h-3.5v-3.8h3.5z" fill="url(#grn)" stroke="#0a7a0a" stroke-width="0.8"/>
<text x="74" y="13.3" font-size="11.4px" fill="#000" textLength="36" lengthAdjust="spacing">新订单</text>
<!-- icon4 book -->
<path d="M122.2 12.2l0.2 1.2 8.6 5.6 6.8-7.2-0.2-1.4-6.9 7z" fill="#fff2c8" stroke="#a87818" stroke-width="0.8" stroke-linejoin="round"/>
<path d="M128.6 3.2l8.9 7.2-6.8 7-8.6-6z" fill="url(#gold)" stroke="#a87818" stroke-width="1" stroke-linejoin="round"/>
<path d="M128.2 5.2l-4.2 6" stroke="#fff0a0" stroke-width="0.8" fill="none"/>
<!-- icon5 server cloud -->
<path d="M152.3 3.9l2.6-1.8h7.6l0.5 1.9v6.8h-10.7z" fill="#1c98f8" stroke="#1878d8" stroke-width="0.5"/>
<path d="M152.4 4l3.2 0.6v6h-3.2z" fill="#10a8ff"/>
<path d="M155.6 4.4v6.4" stroke="#d8f0ff" stroke-width="0.7"/>
<rect x="156.9" y="6" width="5.4" height="3.2" fill="#c4e4ff"/>
<path d="M157.6 7.6l4-0.8" stroke="#fff" stroke-width="0.9"/>
<path d="M152.8 17.3a2.7 2.7 0 0 1-0.2-5.3a3.7 3.7 0 0 1 6.7-1.2a3.1 3.1 0 0 1 4.6 1.7a2.5 2.5 0 0 1-0.3 4.8z" fill="url(#cld)" stroke="#5474ac" stroke-width="0.9"/>
<!-- icon6 signals -->
<path d="M185.9 9.9v7.6a7.6 7.6 0 0 0 4.4-13.8z" fill="#58b058" fill-opacity="0.42"/>
<g fill="none">
<circle cx="185.9" cy="9.9" r="7.3" stroke="#a8bcec" stroke-width="1"/>
<path d="M180.7 4.8a7.3 7.3 0 0 0 0.2 10.4" stroke="#6c8cdc" stroke-width="1.1"/>
<circle cx="185.9" cy="9.9" r="4.6" stroke="#b0c4ee" stroke-width="0.9"/>
<path d="M182.6 6.7a4.6 4.6 0 0 0 0.2 6.6" stroke="#5c80d8" stroke-width="1"/>
<path d="M192.2 6.2a7.3 7.3 0 0 1 -6.3 11" stroke="#58a858" stroke-width="1.3"/>
</g>
<path d="M186.1 9.9v7.9" stroke="#22a022" stroke-width="1.4"/>
<circle cx="185.9" cy="9.7" r="1.9" fill="#2458d0"/>
<!-- icon7 expert -->
<path d="M205.6 9l15.2-0.3-2.2 3.4-5.2 5.8-3.8-2.8z" fill="url(#yel)" stroke="#c09818" stroke-width="0.7" stroke-linejoin="round"/>
<path d="M205.2 6.6c1.5 3.4 13.5 3.6 15.6-0.4c-1-1.6-3-1.6-4.2-0.6c-0.6-4.6-6.8-4.6-7.4 0.2c-1.4-1-3.2-0.8-4 0.8z" fill="#5cacE4" stroke="#2c7cb8" stroke-width="0.8" stroke-linejoin="round"/>
<path d="M209.6 5.8c1.6 1.2 5 1.2 6.8-0.2" stroke="#2c7cb8" stroke-width="0.6" fill="none"/>
<circle cx="217.3" cy="13.6" r="4.1" fill="#e02c0c" stroke="#b41c04" stroke-width="0.6"/>
<rect x="215.8" y="12.1" width="3" height="3" fill="#fff"/>
<text x="226.4" y="13.3" font-size="11.4px" fill="#000" textLength="47" lengthAdjust="spacing">自动交易</text>
<!-- chart type icons -->
<use href="#axes" x="297" y="0"/>
<path d="M305.7 6v7M305.7 6.3h2.6M303.2 12.6h2.5" stroke="#10901a" stroke-width="1.6" fill="none"/>
<use href="#axes" x="325" y="0"/>
<path d="M333.6 2v12" stroke="#0a700a" stroke-width="1.2"/>
<rect x="331.6" y="4.6" width="4" height="7" fill="#28d028" stroke="#0a700a" stroke-width="0.9"/>
<use href="#axes" x="353" y="0"/>
<path d="M354.3 12.3c2.5-1.5 3.5-5 5.8-5.2c2.3 0 3.5 2.8 5.8 4.2" stroke="#18901a" stroke-width="1.3" fill="none"/>
<!-- zoom in/out -->
<path d="M394.6 11.9l5.4 5.2" stroke="#c89818" stroke-width="2.9" stroke-linecap="butt"/><path d="M394.9 12.2l5 4.8" stroke="#f0d060" stroke-width="1.2"/>
<circle cx="390.7" cy="7.9" r="4.9" fill="url(#lens)" stroke="#2c7cd4" stroke-width="1.3"/>
<path d="M388 7.9h5.4M390.7 5.2v5.4" stroke="#2060c0" stroke-width="1.5"/>
<path d="M422.6 11.9l5.4 5.2" stroke="#c89818" stroke-width="2.9" stroke-linecap="butt"/><path d="M422.9 12.2l5 4.8" stroke="#f0d060" stroke-width="1.2"/>
<circle cx="418.7" cy="7.9" r="4.9" fill="url(#lens)" stroke="#2c7cd4" stroke-width="1.3"/>
<path d="M416 7.9h5.4" stroke="#2060c0" stroke-width="1.5"/>
<!-- tile -->
<rect x="441" y="2" width="8" height="8" fill="#48a828"/><rect x="449" y="2" width="8" height="8" fill="#2858d0"/>
<rect x="441" y="10" width="8" height="8" fill="#2858d0"/><rect x="449" y="10" width="8" height="8" fill="#48a828"/>
<g fill="#fff"><rect x="442.5" y="5" width="5" height="3.6"/><rect x="450.5" y="5" width="5" height="3.6"/><rect x="442.5" y="13" width="5" height="3.6"/><rect x="450.5" y="13" width="5" height="3.6"/></g>
<g fill="#48a828"><rect x="443.3" y="6.4" width="3.4" height="0.9"/><rect x="451.3" y="14.4" width="3.4" height="0.9"/></g>
<g fill="#2858d0"><rect x="451.3" y="6.4" width="3.4" height="0.9"/><rect x="443.3" y="14.4" width="3.4" height="0.9"/></g>
<!-- autoscroll / shift -->
<use href="#axes" x="477" y="0"/>
<path d="M484.4 6.8l3.8 2.9-3.8 2.9z" fill="#b0f0b0" stroke="#20a020" stroke-width="1.1"/>
<use href="#axes" x="505" y="0"/>
<path d="M513.5 4v10.5" stroke="#2070c0" stroke-width="1.3"/>
<path d="M519 9.5h-4M517 7.5l-2.3 2 2.3 2" stroke="#e04010" stroke-width="1.2" fill="none"/>
<!-- indicators -->
<path d="M538.7 2.8h6.6l3.4 3.2v9.2h-10z" fill="#fdfdfd" stroke="#6a6a6a" stroke-width="0.9" stroke-linejoin="round"/><path d="M545.3 2.8v3.2h3.4" fill="#e8e8e8" stroke="#8a8a8a" stroke-width="0.7"/>
<text x="540.6" y="11.6" font-size="8px" font-style="italic" fill="#505050" style="font-family:'Liberation Serif',serif">f</text>
<path d="M546 8.1h4v3.5h3.6v3.9h-3.6v3.5h-4v-3.5h-3.6v-3.9h3.6z" fill="url(#grn)" stroke="#0a7a0a" stroke-width="0.8"/>
<use href="#dd" x="560" y="9"/>
<!-- clock -->
<circle cx="584" cy="9.8" r="6.9" fill="#fdfdff" stroke="url(#clk)" stroke-width="2.3"/>
<circle cx="584" cy="9.8" r="4.6" fill="none" stroke="#b8b8c0" stroke-width="0.9" stroke-dasharray="0.7 1.7"/>
<path d="M584.2 5.9v3.7h2.5" stroke="#303030" stroke-width="1.1" fill="none"/>
<path d="M582.8 12.4h2.6" stroke="#80b0f0" stroke-width="0.9"/>
<use href="#dd" x="599.3" y="9"/>
<!-- template -->
<rect x="615.5" y="3.7" width="15" height="13" fill="#fff" stroke="#3870d0" stroke-width="1"/>
<rect x="615" y="3.2" width="16" height="2.6" fill="#3870d0"/>
<path d="M615.5 11.2h15" stroke="#88a8e0" stroke-width="0.8"/>
<path d="M617.5 9.3l2.5-1 2 0.5 2.5-1.6 2 0.6 2.5-1.2" stroke="#c02020" stroke-width="1.2" fill="none"/>
<path d="M617.5 15l2.5-1.4 2 0.8 2.5-2 2 1.4 2.5-1" stroke="#20a020" stroke-width="1.2" fill="none"/>
<use href="#dd" x="638" y="9"/>
<!-- cursor -->
<path d="M667 3.2v11.3l2.7-2.4 2.6 5.2 1.9-0.9-2.4-5 3.5-0.3z" fill="#404040"/>
<path d="M691.8 10.5h6M700.8 10.5h6M699.3 3.2v5.8M699.3 12v5.9" stroke="#404040" stroke-width="1.1"/>
<path d="M733.5 4v13" stroke="#404040" stroke-width="1.2"/>
<path d="M756 10.5h12" stroke="#404040" stroke-width="1.1"/>
<path d="M783.6 17.1l12.2-12.2" stroke="#505050" stroke-width="1.15"/>
<g stroke="#505050" stroke-width="1" fill="none"><path d="M810 13l11-8M811 16.5l12-9M812.5 10.5l10-7.5"/><path d="M813.5 9v6.5M816.5 7v6.5M819.5 4.5v7"/></g>
<text x="820.3" y="18.6" font-size="6.5px" font-weight="bold" fill="#404040">E</text>
<g stroke="#505050" stroke-width="1" stroke-dasharray="1 1" fill="none" class="crisp"><path d="M839 3.5h13M839 7.5h13M839 10.5h13M839 14.5h9"/></g>
<text x="849" y="18.6" font-size="6.5px" font-weight="bold" fill="#404040">F</text>
<text x="869.3" y="15" font-size="12px" font-weight="bold" fill="#505050">A</text>
<rect x="896.5" y="4.5" width="11" height="12" fill="none" stroke="#606060" stroke-width="1" stroke-dasharray="1 1" class="crisp"/>
<text x="898.2" y="14.8" font-size="11px" font-weight="bold" fill="#505050">T</text>
<g fill="#404040"><path d="M926.5 4l3 3-3 3-3-3z"/><path d="M933.5 11l3 3-3 3-3-3z"/></g>
<path d="M925 11.5l2 2.5 5-6.5" stroke="#404040" stroke-width="1.3" fill="none"/>
<use href="#dd" x="944" y="9"/>
<!-- timeframes -->
<g font-size="9.8px" fill="#404040">
<text x="970.2" y="14" textLength="13" lengthAdjust="spacingAndGlyphs">M1</text>
<text x="998.2" y="14" textLength="13" lengthAdjust="spacingAndGlyphs">M5</text>
<text x="1024.2" y="14" textLength="18" lengthAdjust="spacingAndGlyphs">M15</text>
<text x="1052" y="14" textLength="18.5" lengthAdjust="spacingAndGlyphs">M30</text>
<text x="1082.8" y="14" textLength="12.5" lengthAdjust="spacingAndGlyphs">H1</text>
<text x="1110.2" y="14" textLength="12.8" lengthAdjust="spacingAndGlyphs">H4</text>
<text x="1139" y="14" textLength="12.3" lengthAdjust="spacingAndGlyphs">D1</text>
<text x="1166.8" y="14" textLength="14.2" lengthAdjust="spacingAndGlyphs">W1</text>
<text x="1193.2" y="14" textLength="15.2" lengthAdjust="spacingAndGlyphs">MN</text>
</g>
<!-- search + chat -->
<path d="M1683.4 10.6l-4.2 4.2" stroke="#2a5bd7" stroke-width="2.6" stroke-linecap="round"/>
<circle cx="1686.5" cy="7.5" r="3.9" fill="#f4f6ff" stroke="#2a5bd7" stroke-width="1.4"/>
<path d="M1722 10.5l0.8 3-3-2.6" fill="#c8c8d0" stroke="#909090" stroke-width="0.7"/>
<ellipse cx="1719.1" cy="6.6" rx="6.4" ry="4.5" fill="url(#bub)" stroke="#a0a0a0" stroke-width="0.8"/>
<path d="M1708 14.5l-0.8 2.6 3-2" fill="#c8c8d0" stroke="#909090" stroke-width="0.7"/>
<ellipse cx="1710.1" cy="11.3" rx="4.8" ry="3.9" fill="url(#bub)" stroke="#a0a0a0" stroke-width="0.8"/>
</g>

</svg></body></html>
